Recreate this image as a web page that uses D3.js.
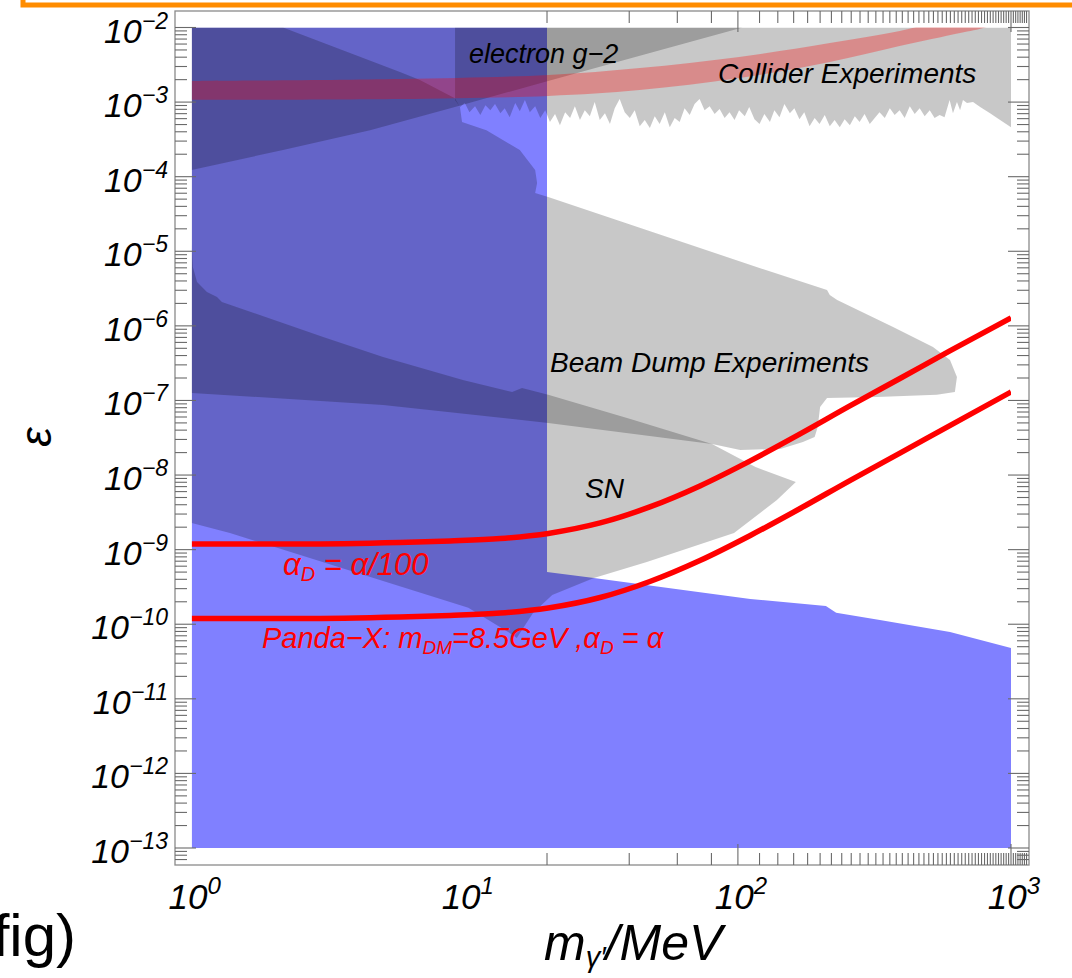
<!DOCTYPE html>
<html><head><meta charset="utf-8">
<script src="https://cdn.jsdelivr.net/npm/d3@7"></script>
<style>
body{margin:0;background:#fff}
svg{display:block}
text{font-family:"Liberation Sans",Arial,Helvetica,sans-serif}
</style>
</head><body>
<svg id="chart" width="1072" height="978"></svg>
<script>
// ---------------- data (mass in MeV, epsilon) ----------------
const xTickExps = [0, 1, 2, 3];
const yTickExps = [-2, -3, -4, -5, -6, -7, -8, -9, -10, -11, -12, -13];

// light blue excluded region
const blueMass = [1, 1000, 1000, 598, 331, 229, 210, 111, 29.7, 20, 20, 1];
const blueEps  = [1e-13, 1e-13, 4.81e-11, 7.88e-11, 1.14e-10, 1.42e-10, 1.76e-10, 2.18e-10, 4.18e-10, 5.02e-10, 1e-2, 1e-2];

// beam dump experiments
const bdMass = [1, 2.16, 5.79, 6.85, 9.2, 9.6, 9.77, 12.0, 15.9, 18.1, 18.4, 18.1, 20.2, 120, 212, 217, 231, 370, 518, 598, 634, 623, 535, 323, 212, 200, 196, 191, 173, 143, 102, 80.4, 20.2, 5.02, 1];
const bdEps  = [1e-2, 1e-2, 2.53e-3, 1.98e-3, 1.13e-3, 8.6e-4, 5.4e-4, 4.2e-4, 2.28e-4, 1.23e-4, 8.2e-5, 6.05e-5, 5.35e-5, 5.97e-6, 3.03e-6, 2.59e-6, 2.22e-6, 9.66e-7, 5.21e-7, 3.49e-7, 2.07e-7, 1.30e-7, 1.19e-7, 1.11e-7, 1.08e-7, 8.18e-8, 4.42e-8, 3.24e-8, 2.78e-8, 2.24e-8, 2.17e-8, 2.61e-8, 5.0e-8, 8.7e-8, 1.26e-7];

// supernova
const snMass = [1, 1.01, 1.046, 1.137, 1.238, 1.29, 3.03, 5.02, 9.84, 14.9, 16.2, 20.2, 40.4, 80.4, 116, 163, 139, 96.8, 46.4, 29.7, 20.9, 17.8, 15.5, 14.6, 10.3, 1.38, 1];
const snEps  = [1.29e-5, 6.17e-6, 3.87e-6, 2.85e-6, 2.44e-6, 2.09e-6, 7.1e-7, 3.83e-7, 1.88e-7, 1.30e-7, 1.47e-7, 1.19e-7, 5.65e-8, 2.61e-8, 1.28e-8, 8.07e-9, 4.63e-9, 1.67e-9, 6.84e-10, 4.18e-10, 2.47e-10, 1.42e-10, 6.55e-11, 7.64e-11, 1.66e-10, 1.67e-9, 2.28e-9];

// electron g-2
const g2Mass = [1, 2.16, 4.5, 9.2, 20.2, 47.6, 104, 1];
const g2Eps  = [1.23e-4, 2.28e-4, 4.2e-4, 8.6e-4, 1.92e-3, 4.55e-3, 1e-2, 1e-2];

// collider experiments (jagged lower edge)
const colMass = [9.21, 9.21, 9.61, 10.0, 10.4, 10.9, 11.4, 11.9, 12.4, 12.9, 13.5, 14.0, 14.6, 15.3, 15.9, 16.6, 17.3, 18.1, 18.9, 19.7, 20.5, 21.4, 22.3, 23.3, 24.3, 25.3, 26.4, 27.5, 28.7, 29.9, 31.2, 32.6, 34.0, 35.4, 36.9, 38.5, 40.2, 41.9, 43.7, 45.6, 47.6, 49.6, 51.7, 54.0, 56.3, 58.7, 61.2, 63.8, 66.6, 69.4, 72.4, 75.5, 78.8, 82.2, 85.7, 89.4, 93.2, 97.2, 101, 106, 110, 115, 120, 125, 131, 136, 142, 148, 155, 161, 168, 175, 183, 191, 199, 208, 217, 226, 236, 246, 257, 268, 279, 291, 304, 317, 330, 345, 360, 375, 391, 408, 426, 444, 463, 483, 504, 525, 548, 571, 596, 613, 634, 651, 667, 690, 726, 771, 838, 912, 1000, 1000];
const colEps  = [1e-2, 10.7e-4, 8.6e-4, 9.7e-4, 7.3e-4, 8.8e-4, 6.7e-4, 9.1e-4, 7.8e-4, 9.4e-4, 7.1e-4, 8.3e-4, 6.25e-4, 9.7e-4, 7.55e-4, 10.7e-4, 7.3e-4, 8.8e-4, 6.1e-4, 7.8e-4, 5.4e-4, 6.9e-4, 4.9e-4, 7.3e-4, 6.1e-4, 8.8e-4, 5.75e-4, 7.8e-4, 6.45e-4, 10.0e-4, 5.75e-4, 7.1e-4, 5.1e-4, 8.3e-4, 11.0e-4, 7.3e-4, 6.1e-4, 7.8e-4, 4.75e-4, 5.75e-4, 4.5e-4, 6.45e-4, 5.1e-4, 7.3e-4, 4.6e-4, 6.1e-4, 5.4e-4, 8.3e-4, 6.7e-4, 9.4e-4, 11.0e-4, 7.8e-4, 8.8e-4, 6.9e-4, 8.05e-4, 6.1e-4, 7.3e-4, 5.75e-4, 7.8e-4, 6.45e-4, 8.6e-4, 5.9e-4, 5.1e-4, 6.9e-4, 5.4e-4, 7.8e-4, 6.25e-4, 9.4e-4, 7.1e-4, 8.3e-4, 5.9e-4, 7.3e-4, 4.75e-4, 6.1e-4, 5.1e-4, 6.7e-4, 4.75e-4, 5.75e-4, 4.6e-4, 5.9e-4, 4.9e-4, 6.45e-4, 5.4e-4, 6.9e-4, 5.1e-4, 6.1e-4, 7.3e-4, 6.1e-4, 8.3e-4, 6.7e-4, 7.8e-4, 6.1e-4, 8.8e-4, 6.9e-4, 8.3e-4, 6.45e-4, 7.8e-4, 6.1e-4, 6.7e-4, 6.25e-4, 10.7e-4, 7.1e-4, 10.0e-4, 7.8e-4, 10.7e-4, 9.7e-4, 10.0e-4, 8.6e-4, 7.1e-4, 5.75e-4, 4.6e-4, 1e-2];

// muon g-2 favoured band
const bandUpMass = [1, 5.79, 20.2, 43.7, 101, 217, 391, 548];
const bandUpEps  = [1.92e-3, 2.04e-3, 2.31e-3, 2.86e-3, 4.03e-3, 6.2e-3, 8.97e-3, 1.19e-2];
const bandLoMass = [1, 5.79, 20.2, 43.7, 101, 217, 391, 651, 803, 912];
const bandLoEps  = [1.07e-3, 1.10e-3, 1.21e-3, 1.45e-3, 2.10e-3, 3.45e-3, 5.65e-3, 8.44e-3, 1e-2, 1.26e-2];

// Panda-X curves (alpha_D = alpha/100 and alpha_D = alpha)
const pandaMass  = [1, 2.49, 5.79, 8.83, 13.5, 20.2, 31.3, 47.6, 72.6, 111, 169, 257, 392, 597, 1000];
const pandaHiEps = [1.19e-9, 1.19e-9, 1.25e-9, 1.31e-9, 1.41e-9, 1.65e-9, 2.28e-9, 3.74e-9, 7.15e-9, 1.55e-8, 3.56e-8, 8.44e-8, 1.97e-7, 4.61e-7, 1.28e-6];
const pandaLoEps = [1.19e-10, 1.19e-10, 1.25e-10, 1.31e-10, 1.41e-10, 1.65e-10, 2.28e-10, 3.74e-10, 7.15e-10, 1.55e-9, 3.56e-9, 8.44e-9, 1.97e-8, 4.61e-8, 1.30e-7];

// ---------------- layout ----------------
const svg = d3.select("#chart");
const frame = {l: 175, r: 1029, t: 11, b: 865};
const x = d3.scaleLog().domain([1, 1000]).range([191.7, 1011]);
const y = d3.scaleLog().domain([1e-13, 1e-2]).range([848, 27.5]);
const zip = (a, b) => a.map((v, i) => [v, b[i]]);

svg.append("defs").append("clipPath").attr("id", "plotclip")
  .append("rect").attr("x", x(1)).attr("y", y(1e-2))
  .attr("width", x(1000) - x(1)).attr("height", y(1e-13) - y(1e-2));

// orange slide box edge
svg.append("path").attr("d", "M23,-10 L23,5 L1080,5")
  .attr("fill", "none").attr("stroke", "#ff8c00").attr("stroke-width", 5);

const g = svg.append("g").attr("clip-path", "url(#plotclip)");
const poly = d3.line().x(d => x(d[0])).y(d => y(d[1]));
const smooth = d3.line().x(d => x(d[0])).y(d => y(d[1])).curve(d3.curveCatmullRom.alpha(0.5));
const mono = d3.line().x(d => x(d[0])).y(d => y(d[1])).curve(d3.curveMonotoneX);

g.append("path").attr("d", poly(zip(blueMass, blueEps)) + "Z").attr("fill", "#8080ff");
const grayRegions = [zip(bdMass, bdEps), zip(snMass, snEps), zip(g2Mass, g2Eps), zip(colMass, colEps)];
grayRegions.forEach(r => {
  g.append("path").attr("d", poly(r) + "Z").attr("fill", "#000").attr("fill-opacity", 0.215);
});
const bandPts = zip(bandUpMass, bandUpEps).concat(zip(bandLoMass, bandLoEps).reverse());
g.append("path").attr("d", smooth(bandPts) + "Z").attr("fill", "#ff0000").attr("fill-opacity", 0.3);

[pandaHiEps, pandaLoEps].forEach(c => {
  g.append("path").attr("d", mono(zip(pandaMass, c))).attr("fill", "none")
    .attr("stroke", "#ff0000").attr("stroke-width", 5.5);
});

// ---------------- frame & ticks ----------------
const axisCol = "#6a6a6a";
svg.append("rect").attr("x", frame.l).attr("y", frame.t)
  .attr("width", frame.r - frame.l).attr("height", frame.b - frame.t)
  .attr("fill", "none").attr("stroke", "#8a8a8a").attr("stroke-width", 1.3);

const isMajor = v => Math.abs(Math.log10(v) - Math.round(Math.log10(v))) < 1e-6;
const xt = d3.scaleLog().domain([0.85, 1200]).ticks(60).filter(v => x(v) > frame.l + 1 && x(v) < frame.r - 1);
const yt = d3.scaleLog().domain([5e-14, 2e-2]).ticks(150).filter(v => y(v) < frame.b - 1 && y(v) > frame.t + 1);
const tk = svg.append("g").attr("stroke", axisCol).attr("stroke-width", 1.1);
xt.forEach(v => {
  const L = isMajor(v) ? 21 : 12, px = x(v);
  tk.append("line").attr("x1", px).attr("x2", px).attr("y1", frame.b).attr("y2", frame.b - L);
  tk.append("line").attr("x1", px).attr("x2", px).attr("y1", frame.t).attr("y2", frame.t + L);
});
yt.forEach(v => {
  const L = isMajor(v) ? 21 : 12, py = y(v);
  tk.append("line").attr("y1", py).attr("y2", py).attr("x1", frame.l).attr("x2", frame.l + L);
  tk.append("line").attr("y1", py).attr("y2", py).attr("x1", frame.r).attr("x2", frame.r - L);
});

// tick labels
yTickExps.forEach(e => {
  const t = svg.append("text").attr("x", 168).attr("y", y(Math.pow(10, e)) + 15)
    .attr("text-anchor", "end").attr("font-style", "italic").attr("font-size", 34);
  t.append("tspan").text("10");
  t.append("tspan").attr("dy", -14).attr("font-size", 23).text("−" + Math.abs(e));
});
xTickExps.forEach(e => {
  const t = svg.append("text").attr("x", x(Math.pow(10, e)) + 3).attr("y", 909)
    .attr("text-anchor", "middle").attr("font-style", "italic").attr("font-size", 35);
  t.append("tspan").text("10");
  t.append("tspan").attr("dy", -15).attr("font-size", 24).text(String(e));
});

// axis titles
const xl = svg.append("text").attr("x", 544).attr("y", 960).attr("font-style", "italic").attr("font-size", 50);
xl.append("tspan").text("m");
xl.append("tspan").attr("dy", 7).attr("font-size", 29).text("γ′");
xl.append("tspan").attr("dy", -7).text("/MeV");
svg.append("text").attr("transform", "translate(51,437) rotate(-90)").attr("text-anchor", "middle")
  .attr("font-style", "italic").attr("font-size", 44).text("ε");

svg.append("text").attr("x", 76).attr("y", 956).attr("text-anchor", "end")
  .attr("font-size", 60).text("fig)");

// ---------------- annotations ----------------
const ann = (tx, ty, str, size, col) => svg.append("text").attr("x", tx).attr("y", ty)
  .attr("font-style", "italic").attr("font-size", size).attr("fill", col || "#000").text(str);
ann(469, 63, "electron g−2", 27);
ann(718, 83, "Collider Experiments", 28);
ann(550, 372, "Beam Dump Experiments", 28);
ann(585, 498, "SN", 28);

const a1 = svg.append("text").attr("x", 283).attr("y", 575).attr("font-style", "italic")
  .attr("font-size", 31).attr("fill", "#ff0000");
a1.append("tspan").text("α");
a1.append("tspan").attr("dy", 6).attr("font-size", 20).text("D");
a1.append("tspan").attr("dy", -6).text(" = α/100");

const a2 = svg.append("text").attr("x", 262).attr("y", 648).attr("font-style", "italic")
  .attr("font-size", 29).attr("fill", "#ff0000");
a2.append("tspan").text("Panda−X: m");
a2.append("tspan").attr("dy", 6).attr("font-size", 19).text("DM");
a2.append("tspan").attr("dy", -6).text("=8.5GeV ,α");
a2.append("tspan").attr("dy", 6).attr("font-size", 19).text("D");
a2.append("tspan").attr("dy", -6).text(" = α");
</script>
</body></html>
